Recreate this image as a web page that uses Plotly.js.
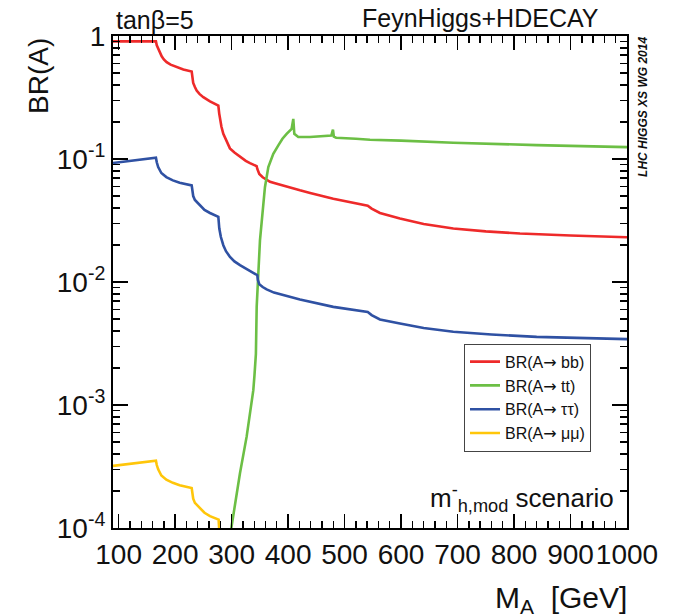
<!DOCTYPE html>
<html>
<head>
<meta charset="utf-8">
<script src="https://cdn.plot.ly/plotly-3.0.1.min.js"></script>
<style>html,body{margin:0;padding:0;background:#fff;}#plot{width:675px;height:614px;}</style>
</head>
<body>
<div id="plot"></div>
<script>
// ---- data ----
const mA_bb = [90, 130, 166, 167.5, 170.3, 173, 176.2, 180, 185, 192, 199.8, 214.5, 229.3, 230.5, 232, 235, 238.1, 243, 249.9, 261.7, 276.5, 278, 279.4, 282, 285.3, 291.2, 297, 305, 314.8, 325, 332.5, 341, 344.3, 345.5, 347, 349, 355, 362, 368, 380, 391.5, 403, 421, 439, 480, 541, 547.9, 562.6, 598, 640, 692.5, 750, 810.5, 900, 1000];
const br_bb = [0.905, 0.905, 0.905, 0.84, 0.785, 0.73, 0.684, 0.645, 0.612, 0.585, 0.565, 0.534, 0.514, 0.46, 0.415, 0.385, 0.360, 0.338, 0.318, 0.294, 0.272, 0.235, 0.212, 0.183, 0.160, 0.1416, 0.122, 0.113, 0.104, 0.0965, 0.0925, 0.0893, 0.0875, 0.083, 0.078, 0.0755, 0.071, 0.0679, 0.0652, 0.0628, 0.0605, 0.0585, 0.0556, 0.0530, 0.0475, 0.0418, 0.0395, 0.0364, 0.0328, 0.0296, 0.0272, 0.0258, 0.0248, 0.0239, 0.0231];

const mA_tt = [295, 300, 314.8, 326.6, 338.4, 340.5, 343, 344.4, 345.5, 347.3, 350.2, 354.9, 359, 365, 373.8, 382.7, 390, 397.4, 406.3, 409.2, 411, 418, 438.7, 476.5, 479.4, 481, 485, 520, 545, 600, 692.5, 840, 1000];
const br_tt = [7.4e-5, 1.03e-4, 2.79e-4, 5.53e-4, 1.32e-3, 1.75e-3, 2.6e-3, 6.3e-3, 8.8e-3, 1.17e-2, 2.18e-2, 4.07e-2, 5.9e-2, 8.6e-2, 0.110, 0.129, 0.146, 0.160, 0.176, 0.212, 0.160, 0.151, 0.151, 0.155, 0.173, 0.152, 0.149, 0.146, 0.1435, 0.141, 0.1356, 0.1297, 0.125];

const mA_tautau = [90, 130, 166, 167.5, 170, 175.6, 184.4, 196, 208, 229.3, 230.5, 232, 235, 240, 244, 252, 261.7, 276.5, 278.2, 281, 285.3, 290, 297.1, 305, 314.8, 332.5, 345.5, 346.5, 349, 355, 362, 375, 391.5, 421, 480, 541, 547.9, 562.6, 598, 640, 692.5, 760, 840, 920, 1000];
const br_tautau = [0.0927, 0.0975, 0.1024, 0.094, 0.0859, 0.0769, 0.0713, 0.067, 0.0641, 0.0610, 0.055, 0.050, 0.0465, 0.044, 0.042, 0.0385, 0.0364, 0.0338, 0.0272, 0.0232, 0.0199, 0.0178, 0.0160, 0.0147, 0.0137, 0.01224, 0.01135, 0.0104, 0.0096, 0.0091, 0.0087, 0.0082, 0.00781, 0.00721, 0.00628, 0.0057, 0.00538, 0.00496, 0.0046, 0.00422, 0.00394, 0.00374, 0.00358, 0.00349, 0.00343];

const mA_mumu = [90, 130, 166, 167.5, 170, 175.6, 184.4, 196, 208, 229.3, 230.5, 232, 235, 240, 244, 252, 261.7, 277, 278.2, 285];
const br_mumu = [3.2e-4, 3.37e-4, 3.53e-4, 3.25e-4, 3.0e-4, 2.67e-4, 2.47e-4, 2.33e-4, 2.23e-4, 2.11e-4, 1.90e-4, 1.73e-4, 1.60e-4, 1.51e-4, 1.45e-4, 1.33e-4, 1.25e-4, 1.17e-4, 9.4e-5, 7.0e-5];

const ARROW = '<span style="font-family:DejaVu Sans">\u2192</span>';
const seriesNames = ['BR(A' + ARROW + ' bb)', 'BR(A' + ARROW + ' tt)', 'BR(A' + ARROW + ' \u03c4\u03c4)', 'BR(A' + ARROW + ' \u03bc\u03bc)'];
const seriesColors = ['#ee2a2a', '#6cbf45', '#2f51a3', '#ffc60a'];

const xTickVals = [100, 200, 300, 400, 500, 600, 700, 800, 900, 1000];
const xTickText = ['100', '200', '300', '400', '500', '600', '700', '800', '900', '1000'];
const yTickVals = [1e-4, 1e-3, 1e-2, 1e-1, 1];
const yTickText = ['10<sup>-4</sup>', '10<sup>-3</sup>', '10<sup>-2</sup>', '10<sup>-1</sup>', '1'];

// ---- figure ----
const FONT = 'Liberation Sans, Arial, Helvetica, sans-serif';
const L = 113, R = 627, T = 36, B = 528.5;
const W = 675, H = 614;
const px2x = p => (p - L) / (R - L);
const py2y = p => (B - p) / (B - T);

const yMinor = [];
for (let e = -4; e < 0; e++) for (let d = 2; d <= 9; d++) yMinor.push(d * Math.pow(10, e));

const xs = [mA_bb, mA_tt, mA_tautau, mA_mumu];
const ys = [br_bb, br_tt, br_tautau, br_mumu];
const traces = xs.map((x, i) => ({
  x: x, y: ys[i], type: 'scatter', mode: 'lines', name: seriesNames[i],
  line: {color: seriesColors[i], width: 2.6}
}));

const axCommon = {
  showgrid: false, zeroline: false, showline: true, linecolor: '#000', linewidth: 2,
  mirror: 'allticks', ticks: 'inside', tickcolor: '#000', tickwidth: 1.6,
  tickfont: {family: FONT, size: 28, color: '#111'}
};

const layout = {
  width: W, height: H,
  margin: {l: L, r: W - R, t: T, b: H - B},
  paper_bgcolor: '#fff', plot_bgcolor: '#fff',
  showlegend: true,
  legend: {
    x: px2x(464), y: py2y(344), xanchor: 'left', yanchor: 'top',
    bgcolor: '#fff', bordercolor: '#444', borderwidth: 1,
    font: {family: FONT, size: 16, color: '#111'}, itemwidth: 30, tracegroupgap: 0
  },
  xaxis: Object.assign({}, axCommon, {
    range: [90, 1000], tickmode: 'array', tickvals: xTickVals, ticktext: xTickText,
    ticklen: 14, tickangle: 0,
    minor: {tickmode: 'linear', tick0: 0, dtick: 20, ticks: 'inside', ticklen: 7, tickcolor: '#000', tickwidth: 1.4, showgrid: false}
  }),
  yaxis: Object.assign({}, axCommon, {
    type: 'log', range: [-4, 0], tickmode: 'array', tickvals: yTickVals, ticktext: yTickText,
    ticklen: 15,
    minor: {tickmode: 'array', tickvals: yMinor, ticks: 'inside', ticklen: 7, tickcolor: '#000', tickwidth: 1.4, showgrid: false}
  }),
  annotations: [
    {text: 'BR(A)', xref: 'paper', yref: 'paper', x: px2x(38), y: py2y(36), xanchor: 'center', yanchor: 'top',
     textangle: -90, showarrow: false, font: {family: FONT, size: 28, color: '#111'}},
    {text: 'M<sub>A</sub>\u00a0\u00a0[GeV]', xref: 'paper', yref: 'paper', x: px2x(629), y: py2y(600), xanchor: 'right', yanchor: 'middle',
     showarrow: false, font: {family: FONT, size: 30, color: '#111'}},
    {text: 'tan\u03b2=5', xref: 'paper', yref: 'paper', x: px2x(114), y: py2y(20), xanchor: 'left', yanchor: 'middle',
     showarrow: false, font: {family: FONT, size: 25, color: '#111'}},
    {text: 'FeynHiggs+HDECAY', xref: 'paper', yref: 'paper', x: px2x(601), y: py2y(18), xanchor: 'right', yanchor: 'middle',
     showarrow: false, font: {family: FONT, size: 25, color: '#111'}},
    {text: '<b><i>LHC HIGGS XS WG 2014</i></b>', xref: 'paper', yref: 'paper', x: px2x(643), y: py2y(107), xanchor: 'center', yanchor: 'middle',
     textangle: -90, showarrow: false, font: {family: FONT, size: 12, color: '#111'}},
    {text: 'm<sup>-</sup><sub>h,mod</sub> scenario', xref: 'paper', yref: 'paper', x: px2x(428), y: py2y(498), xanchor: 'left', yanchor: 'middle',
     showarrow: false, font: {family: FONT, size: 26, color: '#111'}}
  ]
};

Plotly.newPlot('plot', traces, layout, {displayModeBar: false, staticPlot: true});
</script>
</body>
</html>
